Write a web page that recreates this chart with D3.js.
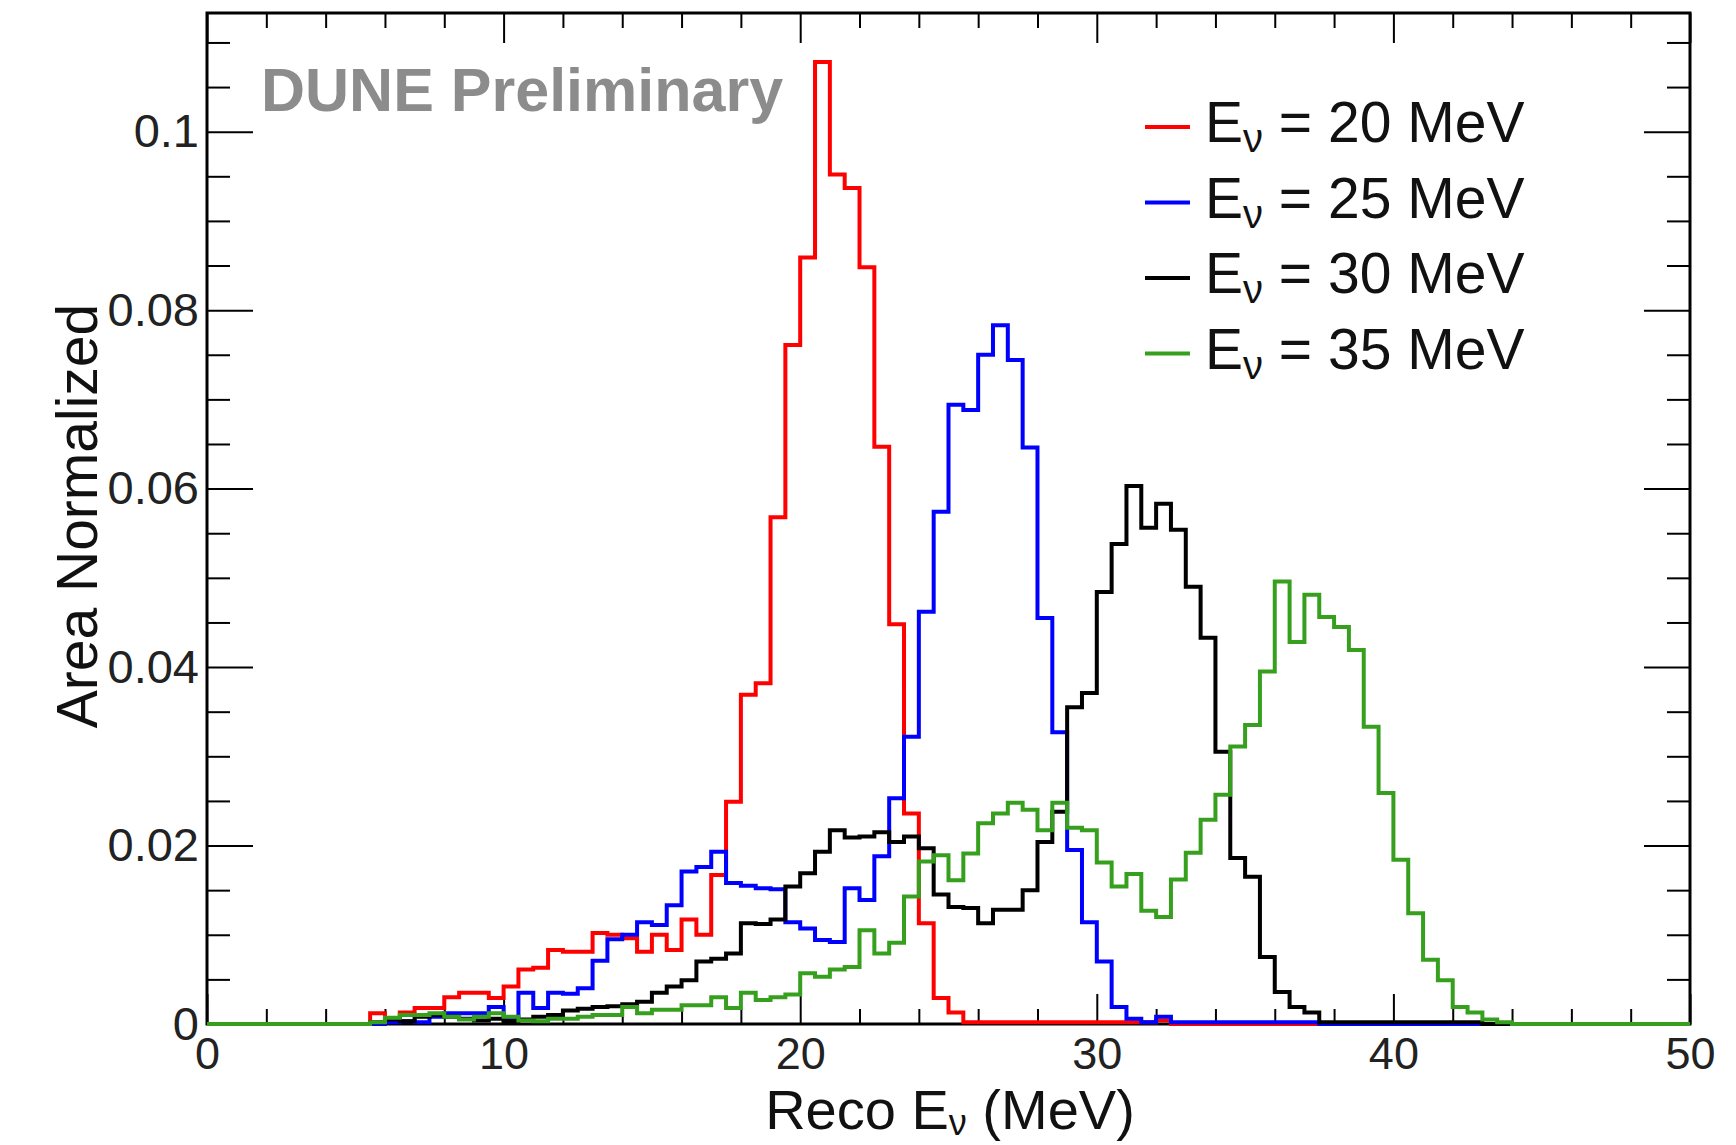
<!DOCTYPE html>
<html>
<head>
<meta charset="UTF-8">
<script src="https://d3js.org/d3.v7.min.js"></script>
<style>
  body { margin: 0; background: #fff; }
  svg text { font-family: "Liberation Sans", Arial, Helvetica, sans-serif; }
</style>
</head>
<body>
<svg width="1736" height="1145"></svg>
<script>
// 0.5 MeV bins; the values below start at 5 MeV, bins outside 5-45 MeV are empty
const histRange = [0, 50];
const binWidth = 0.5;
const binStart = 5;

const nuEnergies = [20, 25, 30, 35];

const reco20 = [
  0, 0.0012, 0.0004, 0.0013, 0.0018, 0.0018, 0.0030, 0.0035, 0.0035, 0.0029,
  0.0042, 0.0061, 0.0063, 0.0083, 0.0081, 0.0081, 0.0102, 0.0100, 0.0096, 0.0081,
  0.0100, 0.0083, 0.0117, 0.0100, 0.0167, 0.0249, 0.0369, 0.0382, 0.0568, 0.0761,
  0.0859, 0.1078, 0.0952, 0.0937, 0.0848, 0.0647, 0.0448, 0.0236, 0.0113, 0.0029,
  0.0013, 0.0002, 0.0002, 0.0002, 0.0002, 0.0002, 0.0002, 0.0002, 0.0002, 0.0002,
  0.0002, 0.0002, 0.0002, 0.0002, 0.0004, 0, 0, 0, 0, 0,
  0, 0, 0, 0, 0, 0, 0, 0, 0, 0,
  0, 0, 0, 0, 0, 0, 0, 0, 0, 0
];
const reco25 = [
  0, 0, 0.0002, 0.0003, 0.0002, 0.0008, 0.0012, 0.0012, 0.0012, 0.0019,
  0.0005, 0.0035, 0.0018, 0.0035, 0.0034, 0.0040, 0.0071, 0.0095, 0.0100, 0.0114,
  0.0111, 0.0133, 0.0171, 0.0176, 0.0193, 0.0158, 0.0155, 0.0152, 0.0151, 0.0114,
  0.0107, 0.0094, 0.0092, 0.0152, 0.0139, 0.0188, 0.0253, 0.0322, 0.0462, 0.0574,
  0.0694, 0.0688, 0.0750, 0.0783, 0.0744, 0.0646, 0.0455, 0.0327, 0.0195, 0.0114,
  0.0070, 0.0019, 0.0006, 0.0002, 0.0008, 0.0002, 0.0002, 0.0002, 0.0002, 0.0002,
  0.0002, 0.0002, 0.0002, 0.0002, 0.0002, 0, 0, 0, 0, 0,
  0, 0, 0, 0, 0, 0, 0, 0, 0, 0
];
const reco30 = [
  0, 0.0002, 0.0005, 0.0003, 0.0008, 0.0010, 0.0008, 0.0006, 0.0004, 0.0006,
  0.0003, 0.0005, 0.0008, 0.0010, 0.0015, 0.0017, 0.0019, 0.0020, 0.0022, 0.0025,
  0.0035, 0.0042, 0.0049, 0.0070, 0.0073, 0.0079, 0.0113, 0.0112, 0.0117, 0.0154,
  0.0169, 0.0193, 0.0217, 0.0209, 0.0210, 0.0215, 0.0204, 0.0210, 0.0197, 0.0145,
  0.0131, 0.0130, 0.0113, 0.0128, 0.0128, 0.0150, 0.0204, 0.0238, 0.0355, 0.0371,
  0.0484, 0.0538, 0.0603, 0.0556, 0.0583, 0.0554, 0.0490, 0.0433, 0.0305, 0.0186,
  0.0165, 0.0075, 0.0036, 0.0019, 0.0013, 0.0002, 0.0002, 0.0002, 0.0002, 0.0002,
  0.0002, 0.0002, 0.0002, 0.0002, 0.0002, 0.0002, 0, 0, 0, 0
];
const reco35 = [
  0, 0.0002, 0.0007, 0.0010, 0.0010, 0.0012, 0.0008, 0.0005, 0.0008, 0.0012,
  0.0008, 0.0004, 0.0003, 0.0006, 0.0006, 0.0008, 0.0010, 0.0010, 0.0019, 0.0012,
  0.0016, 0.0016, 0.0021, 0.0021, 0.0030, 0.0018, 0.0035, 0.0027, 0.0030, 0.0033,
  0.0057, 0.0053, 0.0061, 0.0064, 0.0105, 0.0079, 0.0091, 0.0143, 0.0182, 0.0189,
  0.0161, 0.0191, 0.0225, 0.0236, 0.0248, 0.0240, 0.0217, 0.0248, 0.0220, 0.0217,
  0.0181, 0.0154, 0.0168, 0.0127, 0.0120, 0.0162, 0.0192, 0.0229, 0.0257, 0.0311,
  0.0335, 0.0395, 0.0496, 0.0428, 0.0481, 0.0456, 0.0445, 0.0419, 0.0333, 0.0259,
  0.0184, 0.0124, 0.0072, 0.0049, 0.0019, 0.0013, 0.0005, 0.0002, 0, 0
];

const xTicks = [0, 10, 20, 30, 40, 50];
const xTickLabels = ["0", "10", "20", "30", "40", "50"];
const yTicks = [0, 0.02, 0.04, 0.06, 0.08, 0.1];
const yTickLabels = ["0", "0.02", "0.04", "0.06", "0.08", "0.1"];
const yMax = 0.1133;

const seriesColors = ["#ff0000", "#0000ff", "#000000", "#36a01e"];
const series = [reco20, reco25, reco30, reco35];

let svg = d3.select("svg"),
    margin = { top: 13, right: 46, bottom: 121, left: 207 },
    width = +svg.attr("width") - margin.left - margin.right,
    height = +svg.attr("height") - margin.top - margin.bottom,
    g = svg.append("g").attr("transform", `translate(${margin.left},${margin.top})`);

let x = d3.scaleLinear().domain(histRange).range([0, width]);
let y = d3.scaleLinear().domain([0, yMax]).range([height, 0]);

let xMinor = d3.range(0, 50.001, 2).filter(v => v % 10 !== 0);
let yMinor = d3.range(0, yMax, 0.005).filter(v => Math.abs(v / 0.02 - Math.round(v / 0.02)) > 1e-6);

function styleAxis(sel, fontSize) {
    sel.select(".domain").remove();
    sel.selectAll("line").attr("stroke", "#000").attr("stroke-width", 2);
    sel.selectAll("text").attr("font-size", fontSize).attr("fill", "#222");
}

// frame
g.append("rect")
    .attr("width", width).attr("height", height)
    .attr("fill", "none").attr("stroke", "#000").attr("stroke-width", 3);

// bottom axis
g.append("g").attr("transform", `translate(0,${height})`)
    .call(d3.axisBottom(x).tickValues(xTicks).tickFormat((d, i) => xTickLabels[i]).tickSize(-30).tickPadding(13))
    .call(s => styleAxis(s, 45));
g.append("g").attr("transform", `translate(0,${height})`)
    .call(d3.axisBottom(x).tickValues(xMinor).tickSize(-15))
    .call(s => { styleAxis(s, 45); s.selectAll("text").remove(); });
// top axis
g.append("g")
    .call(d3.axisTop(x).tickValues(xTicks).tickSize(-30))
    .call(s => { styleAxis(s, 45); s.selectAll("text").remove(); });
g.append("g")
    .call(d3.axisTop(x).tickValues(xMinor).tickSize(-15))
    .call(s => { styleAxis(s, 45); s.selectAll("text").remove(); });
// left axis
g.append("g")
    .call(d3.axisLeft(y).tickValues(yTicks).tickFormat((d, i) => yTickLabels[i]).tickSize(-46).tickPadding(8))
    .call(s => styleAxis(s, 47));
g.append("g")
    .call(d3.axisLeft(y).tickValues(yMinor).tickSize(-23))
    .call(s => { styleAxis(s, 47); s.selectAll("text").remove(); });
// right axis
g.append("g").attr("transform", `translate(${width},0)`)
    .call(d3.axisRight(y).tickValues(yTicks).tickSize(-46))
    .call(s => { styleAxis(s, 47); s.selectAll("text").remove(); });
g.append("g").attr("transform", `translate(${width},0)`)
    .call(d3.axisRight(y).tickValues(yMinor).tickSize(-23))
    .call(s => { styleAxis(s, 47); s.selectAll("text").remove(); });

// histograms drawn as outlines
let nBins = Math.round((histRange[1] - histRange[0]) / binWidth);
let offset = Math.round((binStart - histRange[0]) / binWidth);
let line = d3.line().x(d => x(d[0])).y(d => y(d[1]));

series.forEach((vals, k) => {
    let pts = [];
    for (let i = 0; i < nBins; i++) {
        let v = (i - offset >= 0 && i - offset < vals.length) ? vals[i - offset] : 0;
        let lo = histRange[0] + i * binWidth;
        pts.push([lo, v], [lo + binWidth, v]);
    }
    g.append("path")
        .datum(pts)
        .attr("d", line)
        .attr("fill", "none")
        .attr("stroke", seriesColors[k])
        .attr("stroke-width", 4)
        .attr("stroke-linejoin", "miter");
});

// title
svg.append("text")
    .attr("x", 261).attr("y", 111)
    .attr("font-size", 61).attr("font-weight", "bold").attr("fill", "#8c8c8c")
    .text("DUNE Preliminary");

// legend
let legend = svg.append("g");
nuEnergies.forEach((e, i) => {
    let ly = 127 + i * 75.5;
    legend.append("line")
        .attr("x1", 1145).attr("x2", 1190).attr("y1", ly).attr("y2", ly)
        .attr("stroke", seriesColors[i]).attr("stroke-width", 4);
    let t = legend.append("text")
        .attr("x", 1205).attr("y", ly + 15)
        .attr("font-size", 57).attr("fill", "#111");
    t.append("tspan").text("E");
    t.append("tspan").attr("font-size", 40).attr("dy", 10).text("ν");
    t.append("tspan").attr("dy", -10).text(` = ${e} MeV`);
});

// axis titles
svg.append("text")
    .attr("transform", "translate(97,516) rotate(-90)")
    .attr("text-anchor", "middle")
    .attr("font-size", 57).attr("fill", "#111")
    .text("Area Normalized");

let xt = svg.append("text")
    .attr("x", 950).attr("y", 1129)
    .attr("text-anchor", "middle")
    .attr("font-size", 56).attr("fill", "#111");
xt.append("tspan").text("Reco E");
xt.append("tspan").attr("font-size", 36).attr("dy", 6).text("ν");
xt.append("tspan").attr("dy", -6).text(" (MeV)");
</script>
</body>
</html>
